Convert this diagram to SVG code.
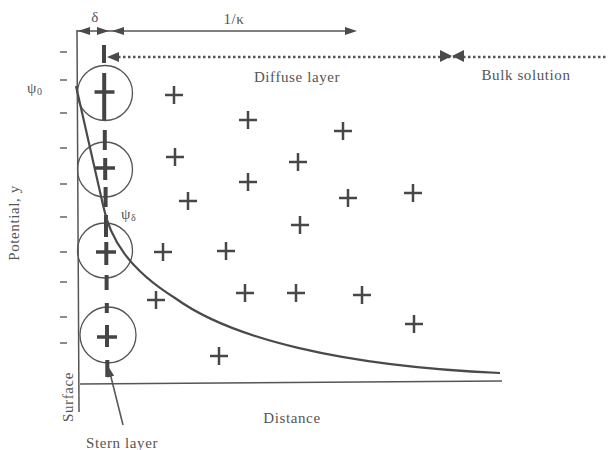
<svg xmlns="http://www.w3.org/2000/svg" xmlns:xlink="http://www.w3.org/1999/xlink" width="608" height="450" viewBox="0 0 608 450">
<style>
.t{font-family:"Liberation Serif",serif;fill:#555;font-size:15px;letter-spacing:0.6px}
.ln{stroke:#555;fill:none;stroke-width:1.5}
.ah{fill:#4a4a4a}
.dot{stroke:#555;stroke-width:2.5;stroke-dasharray:2.5 2.5;fill:none}
.mn{stroke:#666;stroke-width:1.5}
.pl{stroke:#474747;stroke-width:2.5;fill:none}
.ring{stroke:#555;stroke-width:1.3;fill:none}
.cp{stroke:#444;stroke-width:3.5;fill:none}
</style>
<defs>
<path id="plus" d="M-9,0H9M0,-9V9"/>
<path id="cplus" d="M-10,0H10"/>
</defs>
<rect width="608" height="450" fill="#fff"/>
<g id="axes">
<line class="ln" x1="77" y1="30" x2="79" y2="412"/>
<line class="ln" x1="80" y1="384" x2="502" y2="381"/>
</g>
<g id="minus">
<path class="mn" d="M60,52h7M60,80h7M60,113h7M60,148h7M60,184h7M60,217h7M60,252h7M60,282h7M60,317h7M60,343h7"/>
</g>
<g id="top-arrows">
<line class="ln" x1="77" y1="31" x2="350" y2="31"/>
<polygon class="ah" points="78,31 90,27 90,35"/>
<polygon class="ah" points="109,31 97,27 97,35"/>
<polygon class="ah" points="112,31 124,27 124,35"/>
<polygon class="ah" points="357,31 345,27 345,35"/>
<text class="t" x="95" y="22" text-anchor="middle">δ</text>
<text class="t" x="234" y="24" text-anchor="middle">1/κ</text>
</g>
<g id="dotted">
<line class="dot" x1="118" y1="57" x2="606" y2="57"/>
<polygon class="ah" points="107,57 119,52 119,62"/>
<polygon class="ah" points="440,50 440,62 452,56"/>
<polygon class="ah" points="464,50 464,62 452,56"/>
<text class="t" x="297" y="82" text-anchor="middle">Diffuse layer</text>
<text class="t" x="526" y="80" text-anchor="middle">Bulk solution</text>
</g>
<g id="stern">
<circle class="ring" cx="105" cy="93" r="27.5"/>
<circle class="ring" cx="105" cy="169.5" r="27.5"/>
<circle class="ring" cx="105" cy="250.5" r="27.5"/>
<circle class="ring" cx="108" cy="335" r="28"/>
<path stroke="#444" stroke-width="4" fill="none" d="M104,45V63M104.2,73V120M104.8,130V150M105.2,158V180M105.6,187V207M106,215V237M106.3,242V265M106.6,275V290M106.8,303V313M107,325V347M107.3,360V377"/>
<use href="#cplus" class="cp" x="104.5" y="92"/>
<use href="#cplus" class="cp" x="105" y="168"/>
<use href="#cplus" class="cp" x="106" y="252"/>
<use href="#cplus" class="cp" x="107" y="337"/>
</g>
<g id="curve">
<path stroke="#4a4a4a" stroke-width="2.2" fill="none" d="M76,86 L103,205 C110,240 130,270 175,298 C230,338 340,366 500,373"/>
</g>
<g id="ions">
<use href="#plus" class="pl" x="174" y="95"/>
<use href="#plus" class="pl" x="248" y="120"/>
<use href="#plus" class="pl" x="343" y="131"/>
<use href="#plus" class="pl" x="175" y="157"/>
<use href="#plus" class="pl" x="298" y="162"/>
<use href="#plus" class="pl" x="248" y="182"/>
<use href="#plus" class="pl" x="188" y="201"/>
<use href="#plus" class="pl" x="348" y="198"/>
<use href="#plus" class="pl" x="413" y="193"/>
<use href="#plus" class="pl" x="300" y="225"/>
<use href="#plus" class="pl" x="163" y="252"/>
<use href="#plus" class="pl" x="226" y="251"/>
<use href="#plus" class="pl" x="156" y="300"/>
<use href="#plus" class="pl" x="245" y="293"/>
<use href="#plus" class="pl" x="296" y="293"/>
<use href="#plus" class="pl" x="362" y="295"/>
<use href="#plus" class="pl" x="414" y="324"/>
<use href="#plus" class="pl" x="219" y="356"/>
</g>
<g id="labels">
<text class="t" x="27" y="93" font-size="16">ψ<tspan font-size="10" dy="2">0</tspan></text>
<text class="t" x="121" y="219" font-size="16">ψ<tspan font-size="10" dy="2">δ</tspan></text>
<text class="t" transform="translate(19,223) rotate(-90)" text-anchor="middle">Potential, y</text>
<text class="t" transform="translate(73,397) rotate(-90)" text-anchor="middle">Surface</text>
<text class="t" x="292" y="423" text-anchor="middle">Distance</text>
<text class="t" x="122" y="448" text-anchor="middle">Stern layer</text>
<line class="ln" x1="123" y1="425" x2="110.5" y2="375"/>
<polygon class="ah" points="108,366 114.1,375.8 107.3,377.6"/>
</g>
</svg>
